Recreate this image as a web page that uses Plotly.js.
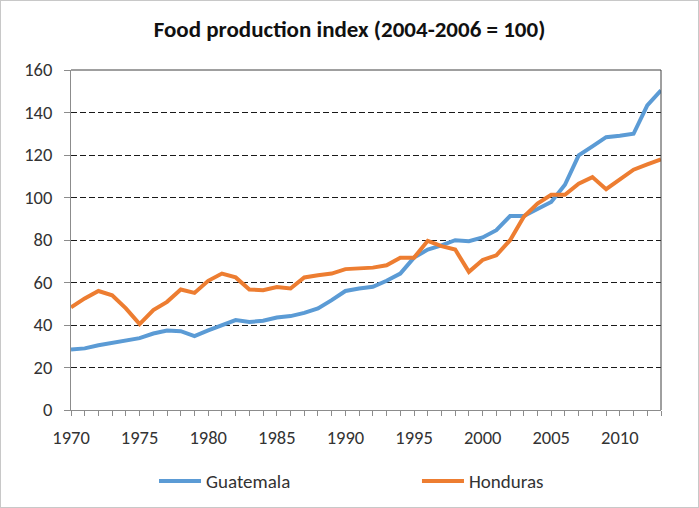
<!DOCTYPE html>
<html>
<head>
<meta charset="utf-8">
<script src="https://cdn.plot.ly/plotly-3.0.1.min.js"></script>
<style>
  html, body { margin: 0; padding: 0; background: #ffffff; }
  #chart { width: 697px; height: 506px; border: 1px solid #c8c8c8; }
</style>
</head>
<body>
<div id="chart"></div>
<script>
const years = [1970,1971,1972,1973,1974,1975,1976,1977,1978,1979,
               1980,1981,1982,1983,1984,1985,1986,1987,1988,1989,
               1990,1991,1992,1993,1994,1995,1996,1997,1998,1999,
               2000,2001,2002,2003,2004,2005,2006,2007,2008,2009,
               2010,2011,2012,2013];

const guatemala = [28.5,29,30.5,31.6,32.8,33.8,36,37.4,37.1,34.8,
                   37.5,40,42.3,41.4,42,43.5,44.2,45.7,47.8,51.7,
                   56,57.2,58,60.8,64.2,71.7,75.5,77.5,79.9,79.4,
                   81.2,84.6,91.3,91.3,94.8,97.9,106,119.8,124.1,128.4,
                   129.1,130,143.3,150.4];

const honduras = [48.3,52.5,56,54,47.8,40.4,47,50.9,56.7,55.1,
                  60.8,64.2,62.4,56.7,56.4,57.9,57.2,62.4,63.4,64.2,
                  66.3,66.6,67,68.1,71.7,71.7,79.6,77.1,75.5,65,
                  70.6,72.8,79.9,90.9,97.1,101.3,101.3,106.5,109.6,103.9,
                  108.4,113.1,115.6,118];

const titleText = 'Food production index (2004-2006 = 100)';
const yTicks = [0,20,40,60,80,100,120,140,160];
const xTickLabels = [1970,1975,1980,1985,1990,1995,2000,2005,2010];

const FONT = 'Carlito, "Liberation Sans Narrow", "Open Sans", Arial, sans-serif';

const traces = [
  { x: years, y: guatemala, name: 'Guatemala', type: 'scatter', mode: 'lines',
    line: { color: '#5B9BD5', width: 4 }, legend: 'legend' },
  { x: years, y: honduras, name: 'Honduras', type: 'scatter', mode: 'lines',
    line: { color: '#ED7D31', width: 4 }, legend: 'legend2' }
];

const legendCommon = {
  orientation: 'h', xanchor: 'left', y: -0.209, yanchor: 'middle',
  font: { size: 19, color: '#333333', family: FONT }, itemwidth: 42,
  bgcolor: 'rgba(0,0,0,0)'
};

const layout = {
  width: 697, height: 506,
  margin: { l: 70, r: 37, t: 69, b: 97, autoexpand: false },
  paper_bgcolor: '#ffffff', plot_bgcolor: '#ffffff',
  font: { family: FONT, color: '#333333', size: 18.5 },
  title: { text: '<b>' + titleText + '</b>', font: { size: 23, color: '#111111', family: FONT },
           x: 0.5, xanchor: 'center', y: 0.944, yanchor: 'middle' },
  showlegend: true,
  legend: Object.assign({}, legendCommon, { x: 0.1407 }),
  legend2: Object.assign({}, legendCommon, { x: 0.5864 }),
  xaxis: {
    range: [1970, 2013], tickvals: xTickLabels, ticktext: xTickLabels.map(String),
    showgrid: false, zeroline: false, showline: true, linecolor: '#8c8c8c', linewidth: 1,
    ticks: 'outside', ticklen: 5, tickcolor: '#8c8c8c', ticklabelstandoff: 6,
    minor: { dtick: 1, tick0: 1970, ticks: 'outside', ticklen: 5, tickcolor: '#8c8c8c', showgrid: false },
    tickfont: { size: 18.5, color: '#333333' }
  },
  yaxis: {
    range: [0, 160], tickvals: yTicks, ticktext: yTicks.map(String),
    showgrid: true, gridcolor: '#1a1a1a', gridwidth: 1, griddash: '6px,3px',
    zeroline: false, showline: true, linecolor: '#8c8c8c', linewidth: 1,
    ticks: 'outside', ticklen: 6, tickcolor: '#8c8c8c', ticklabelstandoff: 8,
    tickfont: { size: 18.5, color: '#333333' }
  },
  shapes: [
    { type: 'line', xref: 'paper', yref: 'paper', x0: 0, x1: 1, y0: 1, y1: 1,
      line: { color: '#404040', width: 1 } },
    { type: 'line', xref: 'paper', yref: 'paper', x0: 1, x1: 1, y0: 0, y1: 1,
      line: { color: '#404040', width: 1 } }
  ]
};

Plotly.newPlot('chart', traces, layout, { displayModeBar: false, staticPlot: true });
</script>
</body>
</html>
